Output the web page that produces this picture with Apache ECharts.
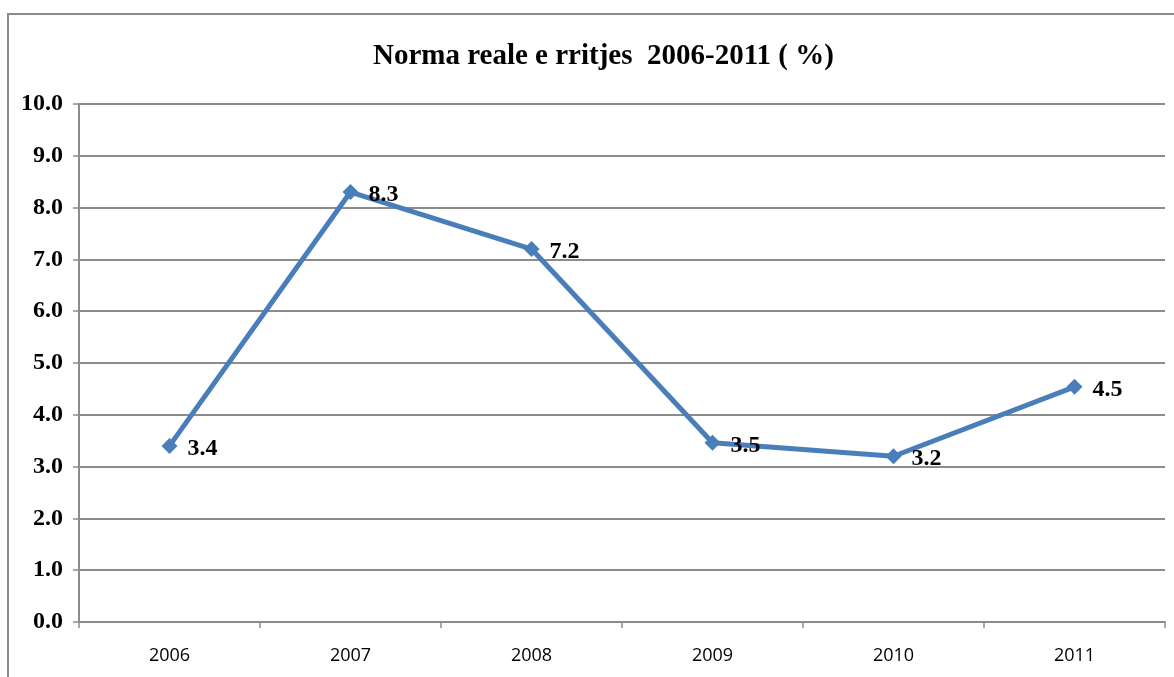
<!DOCTYPE html>
<html>
<head>
<meta charset="utf-8">
<title>Norma reale e rritjes 2006-2011</title>
<script src="https://cdn.jsdelivr.net/npm/echarts@6/dist/echarts.min.js"></script>
<style>
  html, body { margin: 0; padding: 0; background: #fff; }
  #main { width: 1174px; height: 677px; }
</style>
</head>
<body>
<div id="main"></div>
<script>
'use strict';

// te dhenat
var years = ['2006', '2007', '2008', '2009', '2010', '2011'];
var growth = [3.4, 8.3, 7.2, 3.46, 3.2, 4.54];
var titleText = 'Norma reale e rritjes  2006-2011 ( %)';

var serif = '"Liberation Serif", "Times New Roman", serif';
var gridGray = '#8c8c8c';

var myChart = echarts.init(document.getElementById('main'));

var option = {
  backgroundColor: '#ffffff',
  animation: false,
  title: {
    text: titleText,
    left: 368,
    top: 37,
    textStyle: {
      fontFamily: serif,
      fontWeight: 'bold',
      fontSize: 29,
      color: '#000'
    }
  },
  graphic: [
    {
      type: 'polyline',
      shape: { points: [[8, 677], [8, 14], [1174, 14]] },
      style: { stroke: gridGray, lineWidth: 2, fill: null }
    }
  ],
  grid: { left: 79, right: 9, top: 104, bottom: 55 },
  xAxis: {
    type: 'category',
    data: years,
    boundaryGap: true,
    axisLine: { lineStyle: { color: gridGray, width: 2 } },
    axisTick: { show: true, inside: false, length: 6, lineStyle: { color: gridGray, width: 1.5 } },
    axisLabel: {
      margin: 25,
      fontFamily: '"Open Sans", "Liberation Sans", sans-serif',
      fontSize: 18,
      color: '#000'
    }
  },
  yAxis: {
    type: 'value',
    min: 0,
    max: 10,
    interval: 1,
    axisLine: { show: true, lineStyle: { color: gridGray, width: 2 } },
    axisTick: { show: true, length: 6, lineStyle: { color: gridGray, width: 1.5 } },
    splitLine: { lineStyle: { color: gridGray, width: 2 } },
    axisLabel: {
      margin: 16,
      fontFamily: serif,
      fontWeight: 'bold',
      fontSize: 24,
      color: '#000',
      formatter: function (v) { return v.toFixed(1); }
    }
  },
  series: [
    {
      type: 'line',
      data: growth,
      symbol: 'diamond',
      symbolSize: 16,
      lineStyle: { color: '#4a7ebb', width: 5 },
      itemStyle: { color: '#4a7ebb' },
      label: {
        show: true,
        position: 'right',
        distance: 10,
        offset: [0, 3],
        fontFamily: serif,
        fontWeight: 'bold',
        fontSize: 24,
        color: '#000',
        formatter: function (p) { return p.value.toFixed(1); }
      }
    }
  ]
};

myChart.setOption(option);
</script>
</body>
</html>
